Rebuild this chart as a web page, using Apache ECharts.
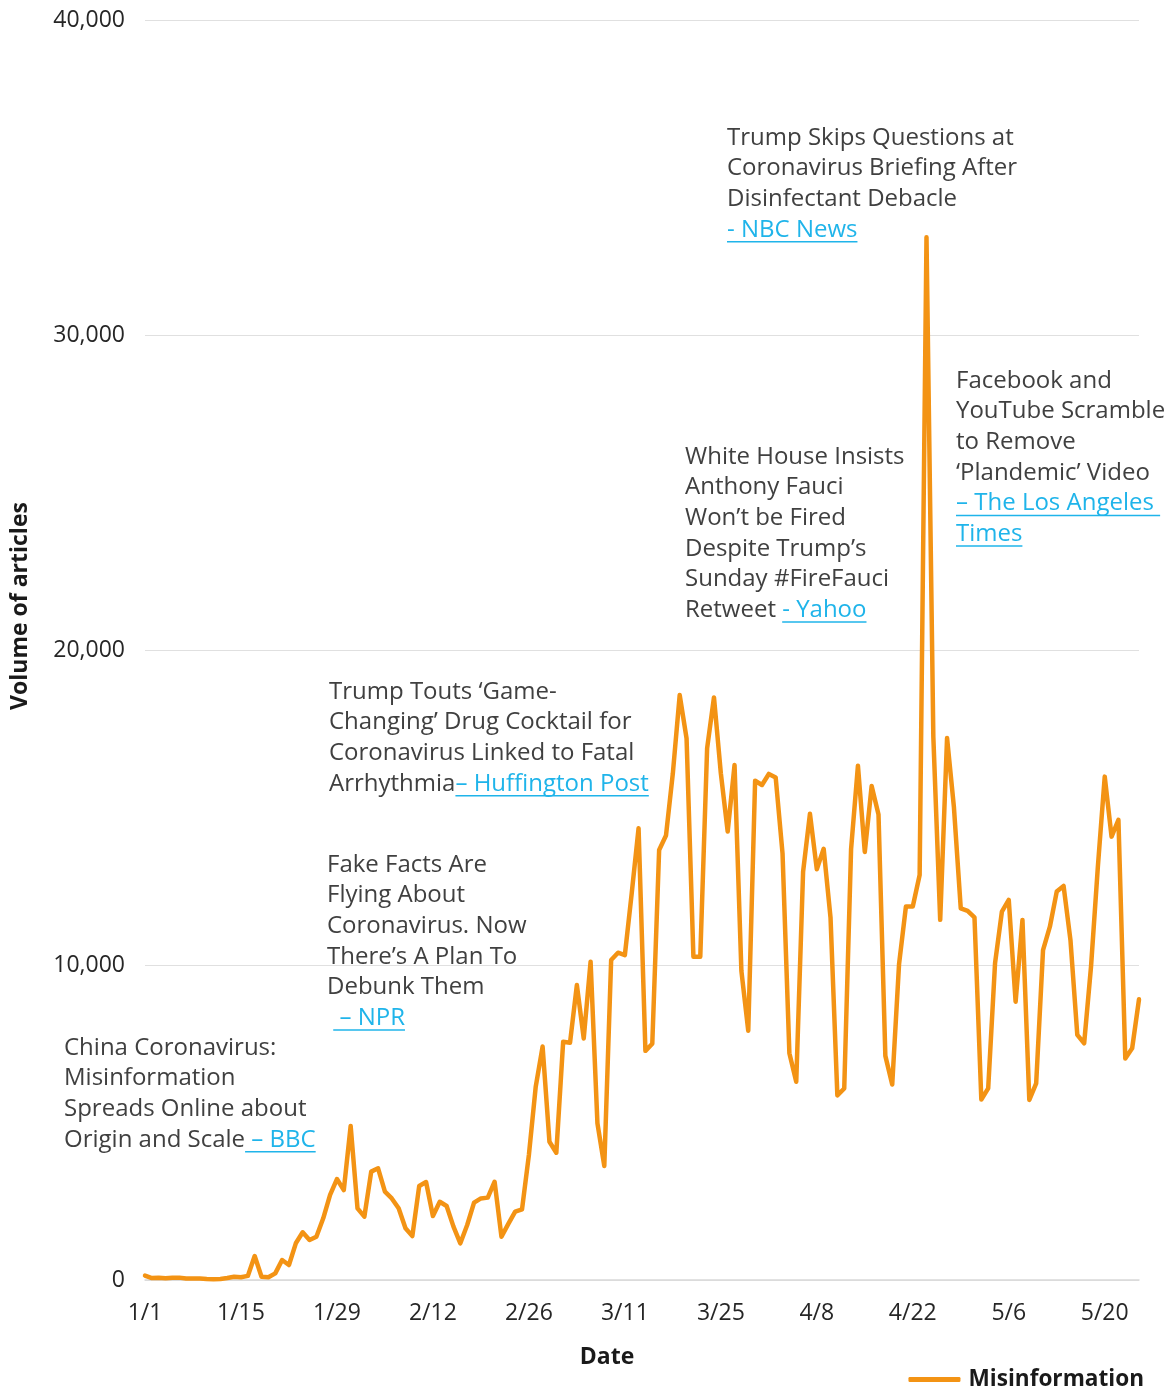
<!DOCTYPE html>
<html><head><meta charset="utf-8">
<script src="https://cdn.jsdelivr.net/npm/echarts@6/dist/echarts.min.js"></script>
<style>html,body{margin:0;padding:0;background:#fff}#c{width:1173px;height:1389px}</style>
</head><body><div id="c"></div>
<script>
// ---------- DATA ----------
const monthDays = [31, 29, 31, 30, 25];          // 2020: Jan..May 25
const categories = [];
monthDays.forEach((n, m) => { for (let d = 1; d <= n; d++) categories.push((m + 1) + '/' + d); });

const misinformation = [
  140, 60, 75, 55, 75, 75, 45, 45, 45, 30,
  20, 30, 65, 105, 85, 130, 760, 105, 85, 210,
  635, 475, 1165, 1515, 1270, 1375, 1960, 2700, 3205, 2855,
  4890, 2275, 2010, 3440, 3545, 2805, 2590, 2275, 1640, 1395,
  2985, 3110, 2030, 2485, 2350, 1695, 1165, 1745, 2455, 2590,
  2615, 3120, 1375, 1780, 2170, 2245, 3970, 6140, 7410, 4390,
  4040, 7565, 7535, 9365, 7670, 10105, 4975, 3620, 10160, 10390,
  10315, 12275, 14340, 7275, 7500, 13650, 14110, 16085, 18570, 17195,
  10265, 10265, 16880, 18495, 16085, 14235, 16350, 9810, 7915, 15850,
  15715, 16065, 15955, 13545, 7200, 6295, 12960, 14800, 13040, 13690,
  11510, 5860, 6080, 13680, 16325, 13590, 15685, 14775, 7115, 6205,
  10035, 11855, 11855, 12860, 33100, 17235, 11435, 17205, 15015, 11800,
  11720, 11515, 5730, 6085, 10055, 11695, 12065, 8835, 11430, 5715,
  6245, 10475, 11215, 12330, 12510, 10795, 7780, 7515, 9945, 13120,
  15980, 14075, 14605, 7035, 7355, 8910
];

const yAxisMax = 40000;
const yAxisInterval = 10000;
const seriesName = 'Misinformation';
const xAxisTitle = 'Date';
const yAxisTitle = 'Volume of articles';

// annotation texts: each line is a list of [text, isLink]
const annBBC = [
  [['China Coronavirus:', false]],
  [['Misinformation', false]],
  [['Spreads Online about', false]],
  [['Origin and Scale', false], [' \u2013 BBC', true]]
];
const annNPR = [
  [['Fake Facts Are', false]],
  [['Flying About', false]],
  [['Coronavirus. Now', false]],
  [['There\u2019s A Plan To', false]],
  [['Debunk Them', false]],
  [[' ', false], [' \u2013 NPR', true]]
];
const annHuff = [
  [['Trump Touts \u2018Game-', false]],
  [['Changing\u2019 Drug Cocktail for', false]],
  [['Coronavirus Linked to Fatal', false]],
  [['Arrhythmia', false], ['\u2013 Huffington Post', true]]
];
const annYahoo = [
  [['White House Insists', false]],
  [['Anthony Fauci', false]],
  [['Won\u2019t be Fired', false]],
  [['Despite Trump\u2019s', false]],
  [['Sunday #FireFauci', false]],
  [['Retweet ', false], ['- Yahoo', true]]
];
const annNBC = [
  [['Trump Skips Questions at', false]],
  [['Coronavirus Briefing After', false]],
  [['Disinfectant Debacle', false]],
  [['- NBC News', true]]
];
const annLAT = [
  [['Facebook and', false]],
  [['YouTube Scramble', false]],
  [['to Remove', false]],
  [['\u2018Plandemic\u2019 Video', false]],
  [['\u2013 The Los Angeles ', true]],
  [['Times', true]]
];

// ---------- STYLE / LAYOUT ----------
const FONT_FAMILY = '"Open Sans"';
const ANN_SIZE = 24;
const LINE_H = 30.6;
const TEXT_COLOR = '#404040';
const LINK_COLOR = '#1FB4EA';
const LINE_COLOR = '#F39314';

const annotations = [
  { x: 64, y: 1048, lines: annBBC },
  { x: 327, y: 865, lines: annNPR },
  { x: 329, y: 692, lines: annHuff },
  { x: 685, y: 457, lines: annYahoo },
  { x: 727, y: 138, lines: annNBC },
  { x: 956, y: 381, lines: annLAT }
];

const cv = document.createElement('canvas');
const ctx = cv.getContext('2d');
function measure(t, size, weight) {
  ctx.font = (weight || 'normal') + ' ' + size + 'px ' + FONT_FAMILY;
  return ctx.measureText(t).width;
}

const graphics = [];
annotations.forEach(a => {
  a.lines.forEach((line, i) => {
    const yy = a.y + i * LINE_H;
    let cx = a.x;
    line.forEach(([t, link]) => {
      const w = measure(t, ANN_SIZE);
      graphics.push({
        type: 'text', x: cx, y: yy, silent: true,
        style: {
          text: t, fill: link ? LINK_COLOR : TEXT_COLOR,
          font: ANN_SIZE + 'px ' + FONT_FAMILY,
          align: 'left', verticalAlign: 'middle'
        }
      });
      if (link) {
        graphics.push({
          type: 'line', silent: true,
          shape: { x1: cx, y1: yy + 12, x2: cx + w, y2: yy + 12 },
          style: { stroke: LINK_COLOR, lineWidth: 1.5 }
        });
      }
      cx += w;
    });
  });
});

graphics.push({
  type: 'text', x: 607, y: 1357, silent: true,
  style: { text: xAxisTitle, fill: '#1a1a1a', font: 'bold 23px ' + FONT_FAMILY, align: 'center', verticalAlign: 'middle' }
});
graphics.push({
  type: 'text', x: 20, y: 606, rotation: Math.PI / 2, silent: true,
  style: { text: yAxisTitle, fill: '#1a1a1a', font: 'bold 23px ' + FONT_FAMILY, align: 'center', verticalAlign: 'middle' }
});

const chart = echarts.init(document.getElementById('c'), null, { renderer: 'canvas' });
chart.setOption({
  animation: false,
  backgroundColor: '#ffffff',
  grid: { left: 145, right: 34, top: 20, bottom: 1389 - 1280, containLabel: false },
  xAxis: {
    type: 'category',
    data: categories,
    boundaryGap: false,
    axisLine: { show: true, lineStyle: { color: '#d9d9d9', width: 1.5 } },
    axisTick: { show: false },
    axisLabel: {
      interval: 13, margin: 22, color: '#262626',
      fontFamily: FONT_FAMILY, fontSize: 23
    },
    splitLine: { show: false }
  },
  yAxis: {
    type: 'value',
    min: 0, max: yAxisMax, interval: yAxisInterval,
    axisLine: { show: false },
    axisTick: { show: false },
    axisLabel: {
      margin: 20, color: '#262626', fontFamily: FONT_FAMILY, fontSize: 23,
      formatter: v => v.toLocaleString('en-US')
    },
    splitLine: { lineStyle: { color: '#e0e0e0', width: 1.2 } }
  },
  legend: {
    data: [seriesName],
    right: 24, top: 1363,
    icon: 'roundRect',
    itemWidth: 52, itemHeight: 5,
    textStyle: { fontFamily: FONT_FAMILY, fontSize: 22.6, fontWeight: 'bold', color: '#1a1a1a', padding: [0, 0, 0, 3] }
  },
  series: [{
    name: seriesName,
    type: 'line',
    data: misinformation,
    symbol: 'none',
    smooth: false,
    lineStyle: { color: LINE_COLOR, width: 4.5, join: 'round', cap: 'round' },
    itemStyle: { color: LINE_COLOR }
  }],
  graphic: graphics
});
</script>
</body></html>
